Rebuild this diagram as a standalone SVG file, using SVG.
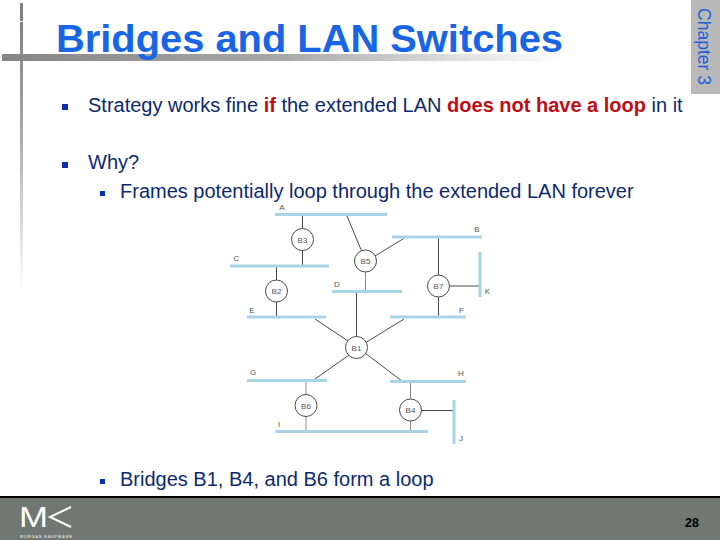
<svg xmlns="http://www.w3.org/2000/svg" width="720" height="540" viewBox="0 0 720 540">
<style>
text{font-family:"Liberation Sans",Arial,sans-serif}
.t{font-size:20px;fill:#0c2a6e}
.r{font-weight:bold;fill:#bf0d14}
.lan{stroke:#a9d3e6;stroke-width:3;fill:none}
.c{stroke:#4a4a4a;stroke-width:1;fill:none}
.g{stroke:#8a8a8a;stroke-width:1;fill:none}
.br{fill:#fff;stroke:#4a4a4a;stroke-width:1}
.bl{font-size:8px;fill:#555;text-anchor:middle}
.sl{font-size:8px;fill:#555;text-anchor:middle}
.b{fill:#0b2fa8}
</style>
<defs>
<linearGradient id="hg" x1="0" x2="1" y1="0" y2="0"><stop offset="0" stop-color="#858585"/><stop offset="0.5" stop-color="#a8a8a8"/><stop offset="1" stop-color="#fff"/></linearGradient>
<linearGradient id="vg" x1="0" x2="0" y1="0" y2="1"><stop offset="0" stop-color="#808080"/><stop offset="0.4" stop-color="#a8a8a8"/><stop offset="1" stop-color="#fff"/></linearGradient>
</defs>
<rect width="720" height="540" fill="#fff"/>
<g id="decor">
<rect x="20" y="3" width="3" height="18" fill="#808080"/>
<rect x="20" y="22" width="3" height="270" fill="url(#vg)"/>
<rect x="2" y="54" width="560" height="7" fill="url(#hg)"/>
<rect x="691" y="0" width="29" height="94" fill="#b9b9b9"/>
<text transform="translate(698 8) rotate(90)" font-size="18" fill="#1f60d8" textLength="77" lengthAdjust="spacingAndGlyphs">Chapter 3</text>
</g>
<text x="56" y="52" font-size="38.5" font-weight="bold" fill="#1865e6" textLength="507" lengthAdjust="spacingAndGlyphs">Bridges and LAN Switches</text>
<g id="body">
<rect class="b" x="62" y="104" width="6" height="6"/>
<text class="t" x="88" y="112">Strategy works fine <tspan class="r">if</tspan> the extended LAN <tspan class="r">does not have a loop</tspan> in it</text>
<rect class="b" x="62" y="162" width="6" height="6"/>
<text class="t" x="88" y="169">Why?</text>
<rect class="b" x="100" y="191" width="5" height="5"/>
<text class="t" x="120" y="198">Frames potentially loop through the extended LAN forever</text>
<rect class="b" x="100" y="479" width="5" height="5"/>
<text class="t" x="120" y="486">Bridges B1, B4, and B6 form a loop</text>
</g>
<g id="connectors">
<line class="c" x1="302.5" y1="214" x2="302.5" y2="266"/>
<line class="c" x1="347" y1="216" x2="362" y2="252"/>
<line class="c" x1="375" y1="256" x2="404.5" y2="238"/>
<line class="g" x1="365.5" y1="270" x2="365.5" y2="291"/>
<line class="c" x1="438.5" y1="237" x2="438.5" y2="317"/>
<line class="c" x1="449" y1="286" x2="479" y2="286"/>
<line class="c" x1="276.5" y1="266" x2="276.5" y2="317"/>
<line class="c" x1="356.5" y1="291" x2="356.5" y2="338"/>
<line class="c" x1="315" y1="319" x2="348" y2="341"/>
<line class="c" x1="404" y1="319" x2="365" y2="343"/>
<line class="c" x1="315" y1="379" x2="349" y2="355"/>
<line class="c" x1="402" y1="381" x2="365" y2="353"/>
<line class="g" x1="306" y1="381" x2="306" y2="431"/>
<line class="g" x1="410.5" y1="381" x2="410.5" y2="431"/>
<line class="c" x1="421" y1="410.5" x2="453" y2="410.5"/>
</g>
<g id="lan-A"><line class="lan" x1="275" y1="214.5" x2="387" y2="214.5"/><text class="sl" x="282" y="210">A</text></g>
<g id="lan-B"><line class="lan" x1="392" y1="237" x2="482" y2="237"/><text class="sl" x="477" y="232">B</text></g>
<g id="lan-C"><line class="lan" x1="230" y1="266" x2="329" y2="266"/><text class="sl" x="236.5" y="261">C</text></g>
<g id="lan-D"><line class="lan" x1="332" y1="291.5" x2="402" y2="291.5"/><text class="sl" x="337" y="287">D</text></g>
<g id="lan-E"><line class="lan" x1="247" y1="317" x2="326" y2="317"/><text class="sl" x="252" y="313">E</text></g>
<g id="lan-F"><line class="lan" x1="390" y1="317" x2="466" y2="317"/><text class="sl" x="461.5" y="313">F</text></g>
<g id="lan-K"><line class="lan" x1="480" y1="252" x2="480" y2="297"/><text class="sl" x="487.5" y="294">K</text></g>
<g id="lan-G"><line class="lan" x1="247" y1="380.5" x2="327" y2="380.5"/><text class="sl" x="253" y="375">G</text></g>
<g id="lan-H"><line class="lan" x1="390" y1="381.5" x2="466" y2="381.5"/><text class="sl" x="461" y="376">H</text></g>
<g id="lan-I"><line class="lan" x1="275.5" y1="431.5" x2="428" y2="431.5"/><text class="sl" x="279" y="427">I</text></g>
<g id="lan-J"><line class="lan" x1="454" y1="400" x2="454" y2="444"/><text class="sl" x="461" y="441">J</text></g>
<g id="B3"><circle class="br" cx="302.5" cy="239.5" r="11"/><text class="bl" x="302.5" y="242.5">B3</text></g>
<g id="B5"><circle class="br" cx="365.5" cy="261" r="11"/><text class="bl" x="365.5" y="264">B5</text></g>
<g id="B2"><circle class="br" cx="276.5" cy="291" r="11"/><text class="bl" x="276.5" y="294">B2</text></g>
<g id="B7"><circle class="br" cx="438.5" cy="286" r="11"/><text class="bl" x="438.5" y="289">B7</text></g>
<g id="B1"><circle class="br" cx="356.5" cy="347.5" r="11"/><text class="bl" x="356.5" y="350.5">B1</text></g>
<g id="B6"><circle class="br" cx="306" cy="405.5" r="11"/><text class="bl" x="306" y="408.5">B6</text></g>
<g id="B4"><circle class="br" cx="410.5" cy="410" r="11"/><text class="bl" x="410.5" y="413">B4</text></g>
<g id="footer">
<rect x="0" y="498" width="720" height="42" fill="#6f7872"/>
<rect x="0" y="496" width="720" height="2" fill="#000"/>
<text x="19" y="527" font-size="30" fill="#fff" textLength="29" lengthAdjust="spacingAndGlyphs">M</text>
<polyline points="71,507 50,517 71,527" fill="none" stroke="#fff" stroke-width="2"/>
<text x="20" y="537.5" font-size="4" font-weight="bold" fill="#d5d8d6" textLength="52">MORGAN KAUFMANN</text>
<text x="692" y="527" font-size="12.5" font-weight="bold" fill="#000" text-anchor="middle">28</text>
</g>
</svg>
